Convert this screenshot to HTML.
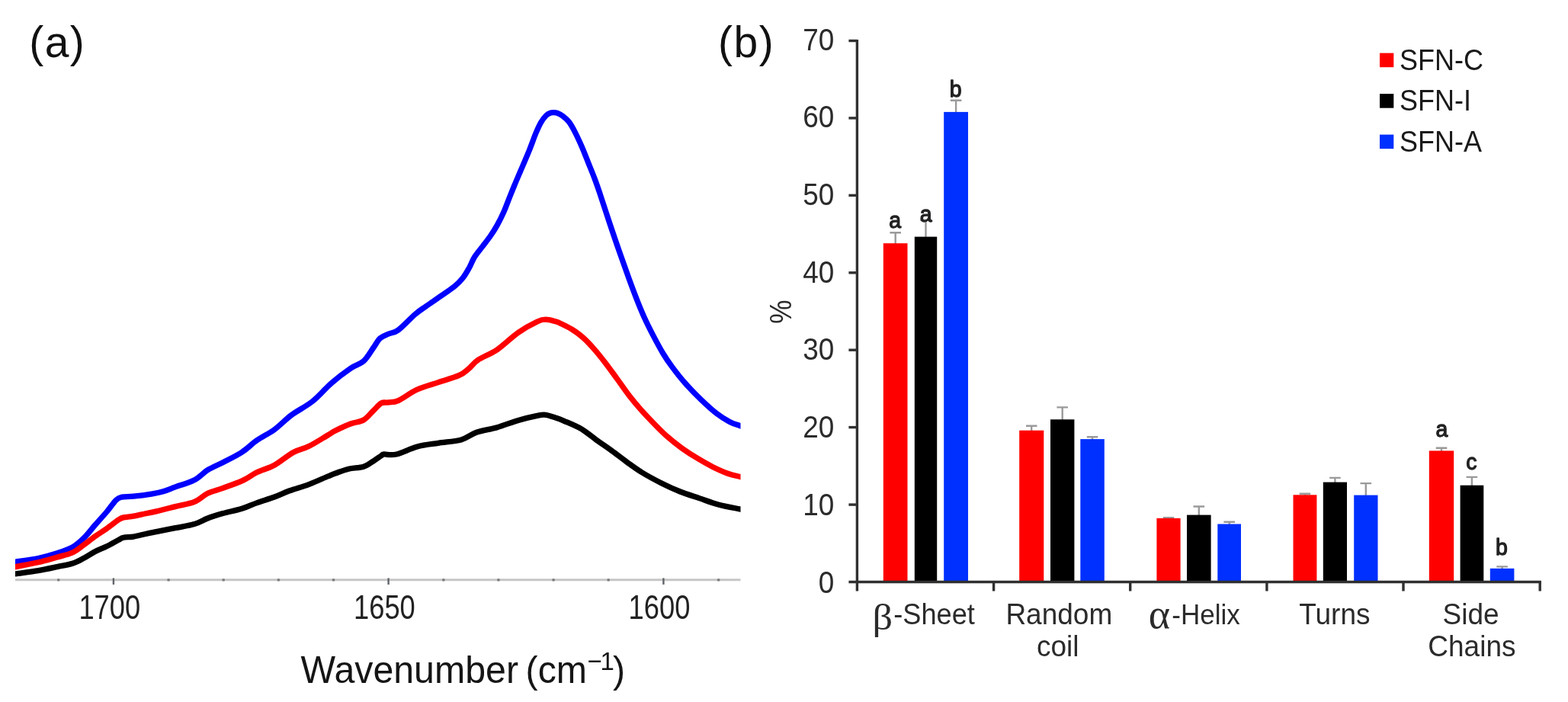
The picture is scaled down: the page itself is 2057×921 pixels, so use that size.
<!DOCTYPE html>
<html lang="en">
<head>
<meta charset="utf-8">
<title>FTIR spectra and secondary structure content of SFN</title>
<style>
html,body{margin:0;padding:0;background:#ffffff;}
body{width:2057px;height:921px;overflow:hidden;}
svg{display:block;}
text{font-family:"Liberation Sans",sans-serif;fill:#1c1c1c;}
.pn{font-size:57px;fill:#111;letter-spacing:1.5px;}
.tk{font-size:45px;fill:#222;}
.xl{font-size:48.3px;fill:#151515;}
.sup{font-size:33px;}
.yt{font-size:37.5px;fill:#2b2b2b;}
.ct{font-size:37px;fill:#2b2b2b;}
.gk{font-family:"Liberation Serif",serif;font-size:47.5px;fill:#2b2b2b;}
.gk2{font-family:"Liberation Serif",serif;font-size:54px;fill:#2b2b2b;}
.sg{font-size:30px;fill:#222;stroke:#222;stroke-width:1.25px;stroke-linejoin:round;}
.lg{font-size:36px;fill:#1a1a1a;}
</style>
</head>
<body>
<svg width="2057" height="921" viewBox="0 0 2057 921" role="img" aria-label="FTIR spectra (a) and secondary structure percentages (b)">
<rect width="2057" height="921" fill="#ffffff"/>
<defs><clipPath id="plotclip"><rect x="20.0" y="100" width="951.5" height="670"/></clipPath></defs>
<!-- panel a : FTIR spectra -->
<g id="panel-a">
<line x1="20.0" y1="760.8" x2="971.5" y2="760.8" stroke="#c6c6c6" stroke-width="3"/>
<rect x="75.0" y="759.2" width="3.4" height="3.4" rx="1" fill="#7c7c7c"/>
<line x1="148.9" y1="758.4" x2="148.9" y2="766.9" stroke="#60646a" stroke-width="2.4"/>
<rect x="219.4" y="759.2" width="3.4" height="3.4" rx="1" fill="#7c7c7c"/>
<rect x="291.5" y="759.2" width="3.4" height="3.4" rx="1" fill="#7c7c7c"/>
<rect x="363.7" y="759.2" width="3.4" height="3.4" rx="1" fill="#7c7c7c"/>
<rect x="435.8" y="759.2" width="3.4" height="3.4" rx="1" fill="#7c7c7c"/>
<line x1="509.6" y1="758.4" x2="509.6" y2="766.9" stroke="#60646a" stroke-width="2.4"/>
<rect x="580.1" y="759.2" width="3.4" height="3.4" rx="1" fill="#7c7c7c"/>
<rect x="652.2" y="759.2" width="3.4" height="3.4" rx="1" fill="#7c7c7c"/>
<rect x="724.4" y="759.2" width="3.4" height="3.4" rx="1" fill="#7c7c7c"/>
<rect x="796.5" y="759.2" width="3.4" height="3.4" rx="1" fill="#7c7c7c"/>
<line x1="870.4" y1="758.4" x2="870.4" y2="766.9" stroke="#60646a" stroke-width="2.4"/>
<rect x="940.9" y="759.2" width="3.4" height="3.4" rx="1" fill="#7c7c7c"/>
<g clip-path="url(#plotclip)"><g transform="scale(1.000 1)" fill="none" stroke-linejoin="round" stroke-width="7.3">
<path d="M14.0 738.0C15.1 737.8 14.5 737.9 20.5 737.0C26.5 736.1 40.9 734.4 50.0 732.5C59.1 730.6 67.5 728.2 75.0 725.8C82.5 723.4 89.2 721.3 95.0 718.0C100.8 714.7 105.0 710.8 110.0 705.9C115.0 701.0 120.0 694.2 125.0 688.5C130.0 682.8 135.4 676.9 140.0 671.5C144.6 666.1 149.0 659.3 152.3 656.1C155.6 652.8 156.2 652.9 160.0 652.1C163.8 651.3 168.3 651.9 175.0 651.2C181.7 650.5 193.3 648.9 200.0 647.8C206.7 646.7 210.0 646.0 215.0 644.5C220.0 643.1 223.3 641.4 230.0 638.9C236.7 636.4 247.9 633.5 255.0 629.8C262.1 626.1 266.2 620.6 272.4 616.7C278.6 612.8 284.9 610.6 292.4 606.7C299.9 602.8 309.9 598.1 317.4 593.2C324.9 588.3 330.2 582.5 337.3 577.6C344.4 572.6 352.5 569.1 360.0 563.6C367.5 558.1 374.1 550.7 382.4 544.5C390.7 538.4 401.2 533.5 410.0 526.5C418.8 519.5 426.7 509.6 435.0 502.4C443.3 495.2 453.0 488.0 460.0 483.2C467.0 478.4 472.0 478.3 477.0 473.8C482.0 469.3 486.4 461.0 490.0 456.0C493.6 451.0 495.4 446.7 498.7 443.7C502.0 440.7 506.0 439.8 510.0 438.0C514.0 436.2 516.7 437.3 522.5 433.0C528.3 428.7 538.9 417.2 545.0 412.0C551.1 406.8 553.2 405.9 559.0 401.8C564.8 397.7 573.8 391.7 580.0 387.3C586.2 382.9 592.0 379.2 596.5 375.5C601.0 371.8 603.7 369.2 606.9 365.1C610.1 361.1 613.0 355.8 615.6 351.2C618.2 346.6 619.6 341.9 622.5 337.3C625.4 332.7 629.5 328.0 633.0 323.4C636.5 318.8 640.2 314.1 643.4 309.5C646.6 304.9 649.2 300.8 652.1 295.6C655.0 290.4 658.2 284.0 660.8 278.2C663.4 272.4 665.4 266.6 667.7 260.8C670.0 255.0 672.2 249.6 674.7 243.5C677.2 237.4 679.6 231.9 682.9 224.2C686.2 216.5 690.9 205.6 694.3 197.3C697.7 189.0 700.5 180.6 703.1 174.4C705.7 168.2 707.6 164.1 709.8 160.3C712.0 156.5 714.5 153.5 716.5 151.5C718.5 149.5 720.2 148.8 721.9 148.2C723.6 147.5 724.9 147.6 726.5 147.6C728.1 147.6 729.4 147.6 731.3 148.4C733.2 149.2 735.6 150.3 738.1 152.2C740.6 154.1 743.4 156.1 746.1 159.6C748.8 163.1 751.3 167.5 754.2 173.1C757.1 178.7 760.7 186.6 763.6 193.3C766.5 200.0 769.0 206.7 771.7 213.4C774.4 220.1 777.3 227.1 779.8 233.6C782.3 240.1 783.1 242.5 786.5 252.5C789.9 262.5 795.7 280.7 800.0 293.5C804.3 306.3 808.1 317.6 812.3 329.5C816.5 341.4 821.2 354.8 825.0 365.2C828.8 375.6 831.7 383.4 835.0 391.8C838.3 400.3 841.3 407.7 845.0 415.9C848.7 424.1 853.2 433.0 857.4 441.1C861.6 449.1 865.9 457.2 870.0 464.0C874.1 470.8 877.3 475.5 882.3 482.1C887.3 488.8 893.7 497.0 900.0 504.0C906.3 511.1 913.3 518.2 920.0 524.6C926.7 531.0 933.8 537.6 940.0 542.4C946.2 547.2 952.2 550.8 957.3 553.5C962.4 556.2 966.7 557.2 970.5 558.5C974.3 559.8 978.4 560.6 980.0 561.0" stroke="#0000ff"/>
<path d="M14.0 744.8C15.1 744.6 14.5 744.8 20.5 743.6C26.5 742.4 40.9 739.9 50.0 737.8C59.1 735.7 67.5 733.1 75.0 731.0C82.5 728.9 89.2 727.7 95.0 725.0C100.8 722.3 105.0 718.4 110.0 714.8C115.0 711.2 120.0 707.0 125.0 703.5C130.0 700.0 135.0 697.0 140.0 693.5C145.0 690.0 151.3 684.7 155.0 682.2C158.7 679.8 158.7 679.7 162.0 678.9C165.3 678.1 170.3 678.1 175.0 677.2C179.7 676.4 185.0 675.1 190.0 674.0C195.0 672.9 198.3 672.5 205.0 670.9C211.7 669.3 221.7 666.7 230.0 664.6C238.3 662.5 247.9 661.2 255.0 658.4C262.1 655.5 266.2 650.2 272.4 647.2C278.6 644.2 284.9 643.1 292.4 640.3C299.9 637.6 309.9 634.4 317.4 630.9C324.9 627.5 330.2 623.1 337.3 619.6C344.4 616.1 352.1 614.6 360.0 610.2C367.9 605.8 377.3 597.6 384.8 593.5C392.3 589.4 397.5 589.4 405.0 585.6C412.5 581.9 424.2 574.4 430.0 571.0C435.8 567.6 435.0 567.5 440.0 565.0C445.0 562.5 453.8 558.3 460.0 556.0C466.2 553.7 472.0 553.9 477.0 551.0C482.0 548.1 486.2 542.3 490.0 538.6C493.8 534.9 496.7 530.8 500.0 529.0C503.3 527.2 506.2 528.5 510.0 527.9C513.8 527.3 516.3 528.4 522.5 525.6C528.7 522.8 538.6 515.0 547.4 511.0C556.1 507.0 565.8 504.7 575.0 501.6C584.2 498.5 595.7 495.4 602.4 492.4C609.1 489.4 610.8 487.0 615.0 483.6C619.2 480.2 621.2 476.1 627.4 472.0C633.6 467.9 643.5 464.7 652.3 458.7C661.1 452.7 671.2 442.3 680.0 436.2C688.8 430.1 698.8 424.8 704.8 422.0C710.8 419.2 711.8 419.2 716.0 419.2C720.2 419.2 726.6 421.2 729.8 422.0C733.0 422.8 731.6 422.5 735.0 424.2C738.4 425.8 745.0 428.7 750.0 431.9C755.0 435.0 760.0 438.5 765.0 443.0C770.0 447.4 775.0 452.9 780.0 458.6C785.0 464.3 790.0 470.7 795.0 477.2C800.0 483.8 805.0 490.8 810.0 497.6C815.0 504.5 820.0 511.9 825.0 518.4C830.0 524.8 834.6 530.4 840.0 536.6C845.4 542.7 851.6 549.2 857.4 555.2C863.2 561.1 868.6 566.8 874.8 572.3C881.0 577.8 888.1 583.4 894.8 588.2C901.5 593.0 908.1 597.2 914.8 601.2C921.5 605.2 928.1 609.1 934.8 612.4C941.5 615.7 948.8 619.0 954.8 621.2C960.8 623.4 966.3 624.4 970.5 625.4C974.7 626.4 978.4 627.1 980.0 627.5" stroke="#ff0000"/>
<path d="M14.0 754.0C15.1 753.8 14.5 753.7 20.5 752.8C26.5 751.9 40.9 750.1 50.0 748.6C59.1 747.1 67.5 745.2 75.0 743.6C82.5 742.0 89.2 741.2 95.0 739.3C100.8 737.4 105.0 734.9 110.0 732.3C115.0 729.7 120.0 726.1 125.0 723.5C130.0 720.9 135.0 719.3 140.0 716.8C145.0 714.3 151.3 710.6 155.0 708.6C158.7 706.7 158.7 706.1 162.0 705.3C165.3 704.5 170.3 704.9 175.0 704.1C179.7 703.3 185.0 701.8 190.0 700.7C195.0 699.6 198.3 699.0 205.0 697.7C211.7 696.3 221.7 694.3 230.0 692.7C238.3 691.0 247.9 689.8 255.0 687.6C262.1 685.5 266.2 682.4 272.4 680.0C278.6 677.7 284.9 675.8 292.4 673.6C299.9 671.5 309.9 669.6 317.4 667.2C324.9 664.9 330.2 662.1 337.3 659.6C344.4 657.1 352.9 654.6 360.0 652.0C367.1 649.4 372.5 646.5 380.0 643.8C387.5 641.1 396.7 638.7 405.0 635.6C413.3 632.5 424.2 627.4 430.0 625.0C435.8 622.6 435.4 622.6 440.0 621.0C444.6 619.4 451.1 616.7 457.3 615.2C463.5 613.8 471.6 614.0 477.0 612.3C482.4 610.6 486.2 607.2 490.0 604.8C493.8 602.4 497.7 599.5 500.0 598.0C502.3 596.5 500.4 596.3 503.7 596.0C507.0 595.7 512.7 597.7 520.0 596.0C527.3 594.3 538.2 588.5 547.4 586.0C556.6 583.5 565.4 582.8 575.0 581.3C584.6 579.8 596.7 579.2 605.0 576.9C613.3 574.6 617.1 570.0 625.0 567.3C632.9 564.6 643.1 563.3 652.3 560.7C661.5 558.0 671.2 554.0 680.0 551.4C688.8 548.8 698.8 546.5 704.8 545.3C710.8 544.1 711.8 543.8 716.0 544.3C720.2 544.8 725.8 547.0 729.8 548.4C733.8 549.7 734.5 549.9 740.0 552.3C745.5 554.7 755.4 558.6 762.5 562.7C769.6 566.9 775.8 572.4 782.4 577.2C789.0 581.9 795.7 586.4 802.4 591.2C809.1 596.0 815.7 601.4 822.4 606.2C829.1 611.0 834.9 615.4 842.4 620.0C849.9 624.6 859.1 629.5 867.4 633.7C875.7 637.9 884.0 641.7 892.3 645.0C900.6 648.3 909.0 650.8 917.3 653.6C925.6 656.4 933.4 659.5 942.3 661.9C951.2 664.3 964.2 666.6 970.5 667.9C976.8 669.2 978.4 669.3 980.0 669.6" stroke="#000000"/>
</g></g>
<text class="tk" transform="translate(143.8 812.4) scale(0.807 1)" text-anchor="middle">1700</text>
<text class="tk" transform="translate(504.4 812.4) scale(0.807 1)" text-anchor="middle">1650</text>
<text class="tk" transform="translate(865.0 812.4) scale(0.807 1)" text-anchor="middle">1600</text>
<text class="xl" transform="translate(0 895.6) scale(1 1.035)"><tspan x="394.6" y="0">Wavenumber</tspan><tspan x="689.6" y="0">(cm</tspan><tspan class="sup" x="770.8" y="-15.8">−</tspan><tspan class="sup" x="787.4" y="-15.8">1</tspan><tspan x="804.0" y="0">)</tspan></text>
<text class="pn" x="38.2" y="74.5">(a)</text>
</g>
<!-- panel b : bar chart -->
<g id="panel-b">
<path d="M1174.7 320.2 V305.3 M1167.4 305.3 H1182.0" stroke="#9a9a9a" stroke-width="2.4" fill="none"/>
<rect x="1158.8" y="319.2" width="31.7" height="444.3" fill="#ff0000"/>
<path d="M1214.5 311.6 V288.8 M1207.2 288.8 H1221.8" stroke="#9a9a9a" stroke-width="2.4" fill="none"/>
<rect x="1199.8" y="310.6" width="29.4" height="452.9" fill="#000000"/>
<path d="M1254.1 147.9 V131.7 M1246.8 131.7 H1261.4" stroke="#9a9a9a" stroke-width="2.4" fill="none"/>
<rect x="1238.2" y="146.9" width="31.8" height="616.6" fill="#0030ff"/>
<path d="M1353.2 565.7 V558.8 M1346.0 558.8 H1360.5" stroke="#9a9a9a" stroke-width="2.4" fill="none"/>
<rect x="1337.2" y="564.7" width="32.1" height="198.8" fill="#ff0000"/>
<path d="M1393.7 551.3 V534.4 M1386.4 534.4 H1401.0" stroke="#9a9a9a" stroke-width="2.4" fill="none"/>
<rect x="1378.0" y="550.3" width="31.4" height="213.2" fill="#000000"/>
<path d="M1433.0 577.1 V573.3 M1425.8 573.3 H1440.3" stroke="#9a9a9a" stroke-width="2.4" fill="none"/>
<rect x="1417.3" y="576.1" width="31.5" height="187.4" fill="#0030ff"/>
<path d="M1533.0 680.9 V679.2 M1525.7 679.2 H1540.3" stroke="#9a9a9a" stroke-width="2.4" fill="none"/>
<rect x="1517.4" y="679.9" width="31.2" height="83.6" fill="#ff0000"/>
<path d="M1572.8 676.6 V664.5 M1565.5 664.5 H1580.1" stroke="#9a9a9a" stroke-width="2.4" fill="none"/>
<rect x="1557.0" y="675.6" width="31.6" height="87.9" fill="#000000"/>
<path d="M1612.7 688.5 V684.7 M1605.4 684.7 H1620.0" stroke="#9a9a9a" stroke-width="2.4" fill="none"/>
<rect x="1597.3" y="687.5" width="30.7" height="76.0" fill="#0030ff"/>
<path d="M1712.0 650.3 V647.8 M1704.7 647.8 H1719.2" stroke="#9a9a9a" stroke-width="2.4" fill="none"/>
<rect x="1696.5" y="649.3" width="30.9" height="114.2" fill="#ff0000"/>
<path d="M1751.4 633.6 V626.9 M1744.1 626.9 H1758.7" stroke="#9a9a9a" stroke-width="2.4" fill="none"/>
<rect x="1735.8" y="632.6" width="31.2" height="130.9" fill="#000000"/>
<path d="M1791.8 650.6 V634.1 M1784.5 634.1 H1799.1" stroke="#9a9a9a" stroke-width="2.4" fill="none"/>
<rect x="1776.2" y="649.6" width="31.3" height="113.9" fill="#0030ff"/>
<path d="M1891.0 592.4 V587.8 M1883.7 587.8 H1898.3" stroke="#9a9a9a" stroke-width="2.4" fill="none"/>
<rect x="1874.8" y="591.4" width="32.4" height="172.1" fill="#ff0000"/>
<path d="M1930.9 637.7 V625.9 M1923.6 625.9 H1938.2" stroke="#9a9a9a" stroke-width="2.4" fill="none"/>
<rect x="1915.6" y="636.7" width="30.7" height="126.8" fill="#000000"/>
<path d="M1970.6 746.8 V743.4 M1963.3 743.4 H1977.9" stroke="#9a9a9a" stroke-width="2.4" fill="none"/>
<rect x="1954.8" y="745.8" width="31.6" height="17.7" fill="#0030ff"/>
<g stroke="#303030" stroke-width="3.4" fill="none">
<path d="M1124.4 52.0 V775.5"/>
<path d="M1113.4 763.5 H2021.9"/>
<path d="M1113.4 662.1 H1124.4"/>
<path d="M1113.4 560.6 H1124.4"/>
<path d="M1113.4 459.2 H1124.4"/>
<path d="M1113.4 357.8 H1124.4"/>
<path d="M1113.4 256.3 H1124.4"/>
<path d="M1113.4 154.9 H1124.4"/>
<path d="M1113.4 53.5 H1124.4"/>
<path d="M1303.6 763.5 V775.5"/>
<path d="M1482.7 763.5 V775.5"/>
<path d="M1661.9 763.5 V775.5"/>
<path d="M1841.0 763.5 V775.5"/>
<path d="M2020.2 763.5 V775.5"/>
</g>
<text class="yt" transform="translate(1094.3 777.5) scale(0.985 1.06)" text-anchor="end">0</text>
<text class="yt" transform="translate(1094.3 675.8) scale(0.985 1.06)" text-anchor="end">10</text>
<text class="yt" transform="translate(1094.3 574.1) scale(0.985 1.06)" text-anchor="end">20</text>
<text class="yt" transform="translate(1094.3 472.4) scale(0.985 1.06)" text-anchor="end">30</text>
<text class="yt" transform="translate(1094.3 370.7) scale(0.985 1.06)" text-anchor="end">40</text>
<text class="yt" transform="translate(1094.3 269.0) scale(0.985 1.06)" text-anchor="end">50</text>
<text class="yt" transform="translate(1094.3 167.3) scale(0.985 1.06)" text-anchor="end">60</text>
<text class="yt" transform="translate(1094.3 65.6) scale(0.985 1.06)" text-anchor="end">70</text>
<text class="yt" transform="translate(1037.6 409.1) rotate(-90) scale(0.94 1.08)" text-anchor="middle">%</text>
<text class="gk" transform="translate(1144.6 826) scale(1.1 1)">β</text>
<text class="ct" transform="translate(1172.3 819) scale(0.978 1.025)">-Sheet</text>
<text class="ct" transform="translate(1389.3 819.0) scale(1 1.025)" text-anchor="middle">Random</text>
<text class="ct" transform="translate(1387.7 861.0) scale(1 1.025)" text-anchor="middle">coil</text>
<text class="gk2" x="1506.8" y="824.3">α</text>
<text class="ct" style="font-size:35px" transform="translate(1537.3 819) scale(1 1.06)">-Helix</text>
<text class="ct" transform="translate(1750.9 819.0) scale(1 1.025)" text-anchor="middle">Turns</text>
<text class="ct" transform="translate(1929.6 819.0) scale(1 1.025)" text-anchor="middle">Side</text>
<text class="ct" transform="translate(1930.9 861.0) scale(1 1.025)" text-anchor="middle">Chains</text>
<text class="sg" transform="translate(1174.3 298.5) scale(0.95 1)" text-anchor="middle">a</text>
<text class="sg" transform="translate(1214.7 290.7) scale(0.95 1)" text-anchor="middle">a</text>
<text class="sg" transform="translate(1253.6 126.7) scale(0.95 1)" text-anchor="middle">b</text>
<text class="sg" transform="translate(1891.5 573.0) scale(0.95 1)" text-anchor="middle">a</text>
<text class="sg" transform="translate(1930.4 616.2) scale(0.95 1)" text-anchor="middle">c</text>
<text class="sg" transform="translate(1970.0 727.5) scale(0.95 1)" text-anchor="middle">b</text>
<rect x="1810" y="69.6" width="18.3" height="18.6" fill="#ff0000"/>
<text class="lg" transform="translate(1836.0 91.5) scale(1 1.058)">SFN-C</text>
<rect x="1810" y="123.1" width="18.3" height="18.6" fill="#000000"/>
<text class="lg" transform="translate(1836.0 145.0) scale(1 1.058)">SFN-I</text>
<rect x="1810" y="176.6" width="18.3" height="18.6" fill="#0030ff"/>
<text class="lg" transform="translate(1836.0 198.5) scale(1 1.058)">SFN-A</text>
<text class="pn" x="942" y="74.5">(b)</text>
</g>
</svg>
</body>
</html>
